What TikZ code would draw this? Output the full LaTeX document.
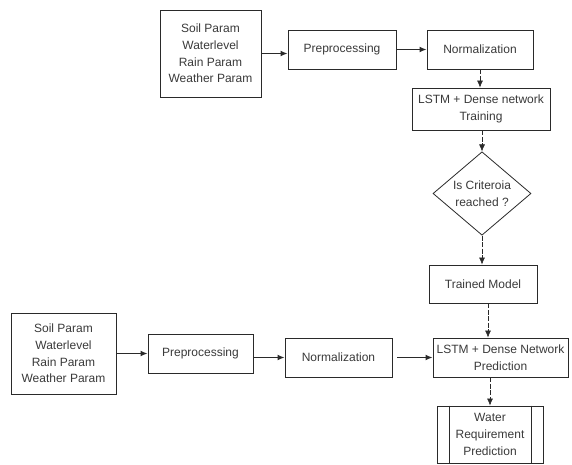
\documentclass[tikz,border=0pt]{standalone}
\usepackage{fontspec}
\setmainfont{Liberation Sans}
\usetikzlibrary{shapes.geometric,arrows.meta}
\definecolor{txt}{HTML}{3A3A3A}
\definecolor{ln}{HTML}{2A2A2A}
\begin{document}
\begin{tikzpicture}[x=1pt,y=1pt,
  box/.style={draw=ln,line width=0.9pt,align=center,inner sep=0pt,text=txt,
    font=\fontsize{12}{16.6}\selectfont},
  dec/.style={draw=ln,line width=0.8pt,diamond,align=center,inner sep=0pt,text=txt,
    font=\fontsize{12}{16.6}\selectfont},
  harrow/.style={-{Latex[length=7pt,width=6pt]},line width=1.3pt,draw=ln},
  varrow/.style={-{Latex[length=7pt,width=6pt]},line width=0.6pt,draw=ln,dash pattern=on 5pt off 1.5pt}]
\useasboundingbox (0,0) rectangle (572,464);
\fill[white] (0,0) rectangle (572,464);
% top row
\node[box,minimum width=101pt,minimum height=87pt] (in1) at (210.5,410.5) {Soil Param\\Waterlevel\\Rain Param\\Weather Param};
\node[box,minimum width=108pt,minimum height=39pt] (pre1) at (342,414.5) {Preprocessing};
\node[box,minimum width=106pt,minimum height=39pt] (nor1) at (480,414.5) {Normalization};
\node[box,minimum width=138pt,minimum height=42pt] (lstm1) at (481,355) {LSTM + Dense network\\Training};
\node[dec,minimum width=98pt,minimum height=77pt] (dia) at (482,270.5) {Is Criteroia\\reached ?};
\node[box,minimum width=108pt,minimum height=38pt] (trained) at (483,180) {Trained Model};
% bottom row
\node[box,minimum width=105pt,minimum height=81pt] (in2) at (63.5,110.5) {Soil Param\\Waterlevel\\Rain Param\\Weather Param};
\node[box,minimum width=105pt,minimum height=39pt] (pre2) at (200.5,110.5) {Preprocessing};
\node[box,minimum width=107pt,minimum height=39pt] (nor2) at (338.5,106.5) {Normalization};
\node[box,minimum width=135pt,minimum height=39pt] (lstm2) at (500.5,106.5) {LSTM + Dense Network\\Prediction};
\node[box,minimum width=106pt,minimum height=57pt] (water) at (490,29.5) {Water\\Requirement\\Prediction};
\draw[ln,line width=0.9pt] ([xshift=13pt]water.north west) -- ([xshift=13pt]water.south west);
\draw[ln,line width=0.9pt] ([xshift=-12pt]water.north east) -- ([xshift=-12pt]water.south east);
% connectors
\draw[harrow] (in1.east) -- (in1.east -| pre1.west);
\draw[harrow] (pre1.east) -- (nor1.west);
\draw[varrow] (nor1.south) -- (nor1.south |- lstm1.north);
\draw[varrow] (lstm1.south -| dia.north) -- (dia.north);
\draw[varrow] (dia.south) -- (dia.south |- trained.north);
\draw[varrow] ([xshift=5pt]trained.south) -- ([xshift=5pt]trained.south |- lstm2.north);
\draw[harrow] (in2.east) -- (pre2.west);
\draw[harrow] (pre2.east |- nor2.west) -- (nor2.west);
\draw[harrow] ([xshift=5pt]nor2.east) -- (lstm2.west);
\draw[varrow] (lstm2.south -| water.north) -- (water.north);
\end{tikzpicture}
\end{document}
